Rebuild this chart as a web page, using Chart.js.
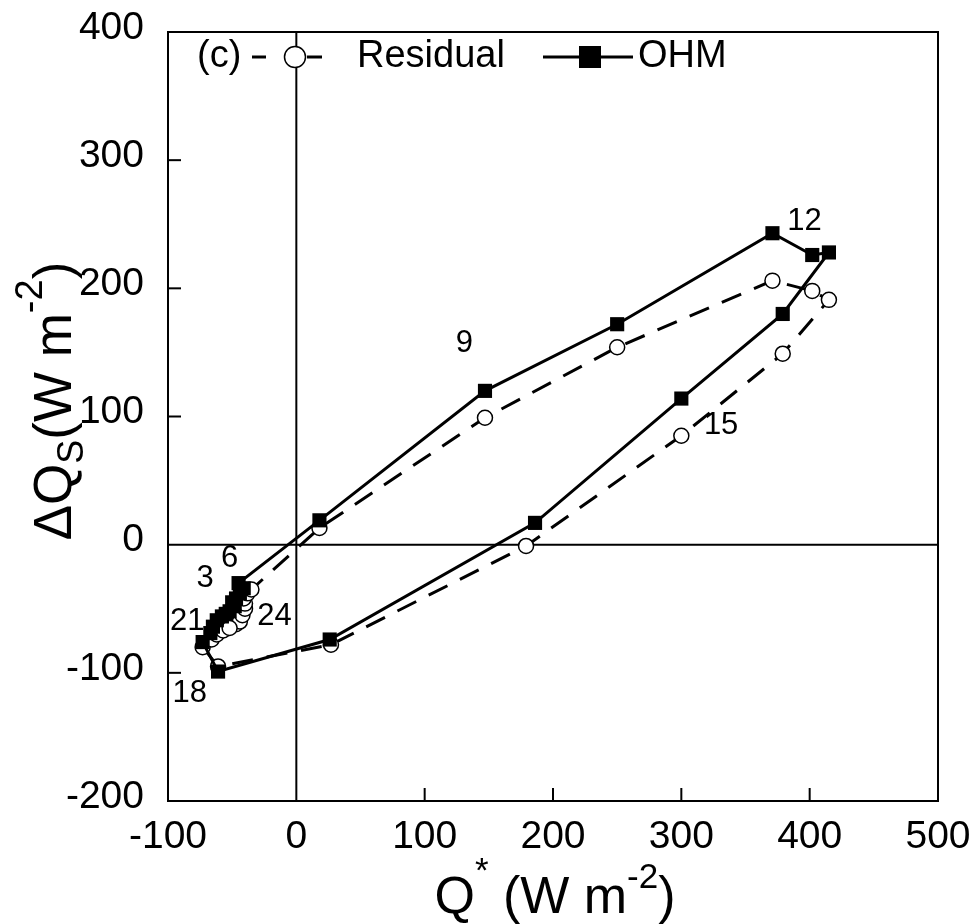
<!DOCTYPE html>
<html><head><meta charset="utf-8">
<script src="https://cdn.jsdelivr.net/npm/chart.js@4.4.0/dist/chart.umd.min.js"></script>
<style>html,body{margin:0;padding:0;background:#fff;}#wrap{width:975px;height:924px;}</style>
</head><body><div id="wrap"><canvas id="c" width="975" height="924"></canvas></div>
<script>
// ---- data ----
const ohmX = [-55,-52,-48,-50,-47,-44,-41,-45,18,147,250,371,402,415,379,300,186,26,-61,-73,-67,-65,-62,-58];
const ohmY = [-54,-52,-48,-45,-42,-38,-34,-30,19,120,172,243,226,228,180,114,17,-74,-99,-76,-69,-64,-59,-56];
const resX = [-47,-44,-42,-40,-40,-41,-38,-35,18,147,250,371,402,415,379,300,179,27,-61,-73,-66,-62,-57,-52];
const resY = [-62,-60,-55,-50,-46,-42,-38,-35,13,99,154,206,198,191,149,85,-1,-78,-95,-80,-74,-70,-67,-65];
const xTicks = [-100,0,100,200,300,400,500];
const yTicks = [-200,-100,0,100,200,300,400];
const hourText = ['3','6','9','12','15','18','21','24'];
const hourX = [-71,-52,131,396,331,-83,-85,-17];
const hourY = [-26,-11,157,252,93,-116,-60,-56];
const seriesNames = ['Residual','OHM'];
const panelTag = '(c)';

const FONT = '"Liberation Sans", Arial, sans-serif';
const toPts = (xs, ys) => xs.map((v,i)=>({x:v,y:ys[i]}));
const AREA = {left:168, top:32, right:938, bottom:801};

function line(ctx,x1,y1,x2,y2){ctx.beginPath();ctx.moveTo(x1,y1);ctx.lineTo(x2,y2);ctx.stroke();}
function drawRich(ctx, segs, x, y, align){
  let total=0;
  segs.forEach(s=>{ctx.font=s.f+'px '+FONT; s.w=ctx.measureText(s.t).width; total+=s.w;});
  let cx = align==='center' ? x-total/2 : x;
  segs.forEach(s=>{ctx.font=s.f+'px '+FONT; ctx.fillText(s.t,cx,y+s.dy); cx+=s.w;});
}

const fixArea = {
  id:'fixArea',
  afterLayout(chart){
    const a = chart.chartArea;
    Object.assign(a, AREA, {width:AREA.right-AREA.left, height:AREA.bottom-AREA.top});
    const {x,y} = chart.scales;
    Object.assign(x,{left:AREA.left,right:AREA.right,width:AREA.right-AREA.left,top:AREA.bottom,bottom:chart.height,height:chart.height-AREA.bottom});
    Object.assign(y,{left:0,right:AREA.left,width:AREA.left,top:AREA.top,bottom:AREA.bottom,height:AREA.bottom-AREA.top});
    x.configure(); y.configure();
  }
};

const deco = {
  id:'deco',
  beforeDatasetsDraw(chart){
    const {ctx, chartArea:a, scales:{x,y}} = chart;
    ctx.save();
    ctx.strokeStyle='#000'; ctx.lineWidth=2;
    const x0=x.getPixelForValue(0), y0=y.getPixelForValue(0);
    line(ctx,x0,a.top,x0,a.bottom);
    line(ctx,a.left,y0,a.right,y0);
    xTicks.forEach(v=>{ if(v===0||v===x.min||v===x.max) return; const p=x.getPixelForValue(v); line(ctx,p,a.bottom,p,a.bottom-13);});
    yTicks.forEach(v=>{ if(v===0||v===y.min||v===y.max) return; const p=y.getPixelForValue(v); line(ctx,a.left,p,a.left+13,p);});
    ctx.strokeRect(a.left,a.top,a.right-a.left,a.bottom-a.top);
    ctx.restore();
  },
  afterDatasetsDraw(chart){
    const {ctx, scales:{x,y}} = chart;
    ctx.save();
    ctx.fillStyle='#000'; ctx.strokeStyle='#000';
    // hour labels
    ctx.font='31px '+FONT; ctx.textAlign='center'; ctx.textBaseline='middle';
    hourText.forEach((t,i)=>ctx.fillText(t, x.getPixelForValue(hourX[i]), y.getPixelForValue(hourY[i])));
    // legend
    const ly=57;
    ctx.textAlign='left'; ctx.textBaseline='middle';
    ctx.font='38px '+FONT;
    ctx.fillText(panelTag,197,ly);
    ctx.lineWidth=3;
    line(ctx,252,ly,266,ly); line(ctx,307,ly,322,ly);
    ctx.beginPath(); ctx.arc(295,ly,10.5,0,Math.PI*2); ctx.fillStyle='#fff'; ctx.fill(); ctx.lineWidth=1.5; ctx.stroke();
    ctx.fillStyle='#000';
    ctx.fillText(seriesNames[0],357,ly);
    ctx.lineWidth=3; line(ctx,543,ly,633,ly);
    ctx.fillRect(590-11,ly-11,22,22);
    ctx.fillText(seriesNames[1],638,ly);
    // axis titles
    ctx.textBaseline='alphabetic';
    drawRich(ctx,[{t:'Q',f:52,dy:0},{t:'*',f:35,dy:-31},{t:' (W m',f:52,dy:0},{t:'-2',f:35,dy:-25},{t:')',f:52,dy:0}],555,913,'center');
    ctx.translate(71,401); ctx.rotate(-Math.PI/2);
    drawRich(ctx,[{t:'ΔQ',f:53,dy:0},{t:'S',f:36,dy:12},{t:'(W m',f:53,dy:0},{t:'-2',f:38,dy:-29},{t:')',f:53,dy:0}],0,0,'center');
    ctx.restore();
  }
};

new Chart(document.getElementById('c'),{
  type:'scatter',
  data:{datasets:[
    {label:seriesNames[1],data:toPts(ohmX,ohmY),showLine:true,borderColor:'#000',borderWidth:3,
     pointStyle:'rect',pointRadius:10,pointBackgroundColor:'#000',pointBorderColor:'#000',pointBorderWidth:0,tension:0},
    {label:seriesNames[0],data:toPts(resX,resY),showLine:true,borderColor:'#000',borderWidth:3,borderDash:[21,14],
     pointStyle:'circle',pointRadius:7.5,pointBackgroundColor:'#fff',pointBorderColor:'#000',pointBorderWidth:1.5,tension:0}
  ]},
  options:{
    responsive:false,devicePixelRatio:1,animation:false,
    layout:{padding:{top:32,right:37,left:0,bottom:0}},
    plugins:{legend:{display:false},tooltip:{enabled:false}},
    scales:{
      x:{type:'linear',min:-100,max:500,
        afterBuildTicks:s=>{s.ticks=xTicks.map(v=>({value:v}));},
        afterFit:s=>{s.height=123;},
        grid:{display:false},border:{display:false},
        ticks:{font:{family:FONT,size:39},color:'#000',padding:5,maxRotation:0,autoSkip:false}},
      y:{type:'linear',min:-200,max:400,
        afterBuildTicks:s=>{s.ticks=yTicks.map(v=>({value:v}));},
        afterFit:s=>{s.width=168;},
        grid:{display:false},border:{display:false},
        ticks:{font:{family:FONT,size:39},color:'#000',padding:16,labelOffset:-4,autoSkip:false}}
    }
  },
  plugins:[fixArea,deco]
});
</script></body></html>
